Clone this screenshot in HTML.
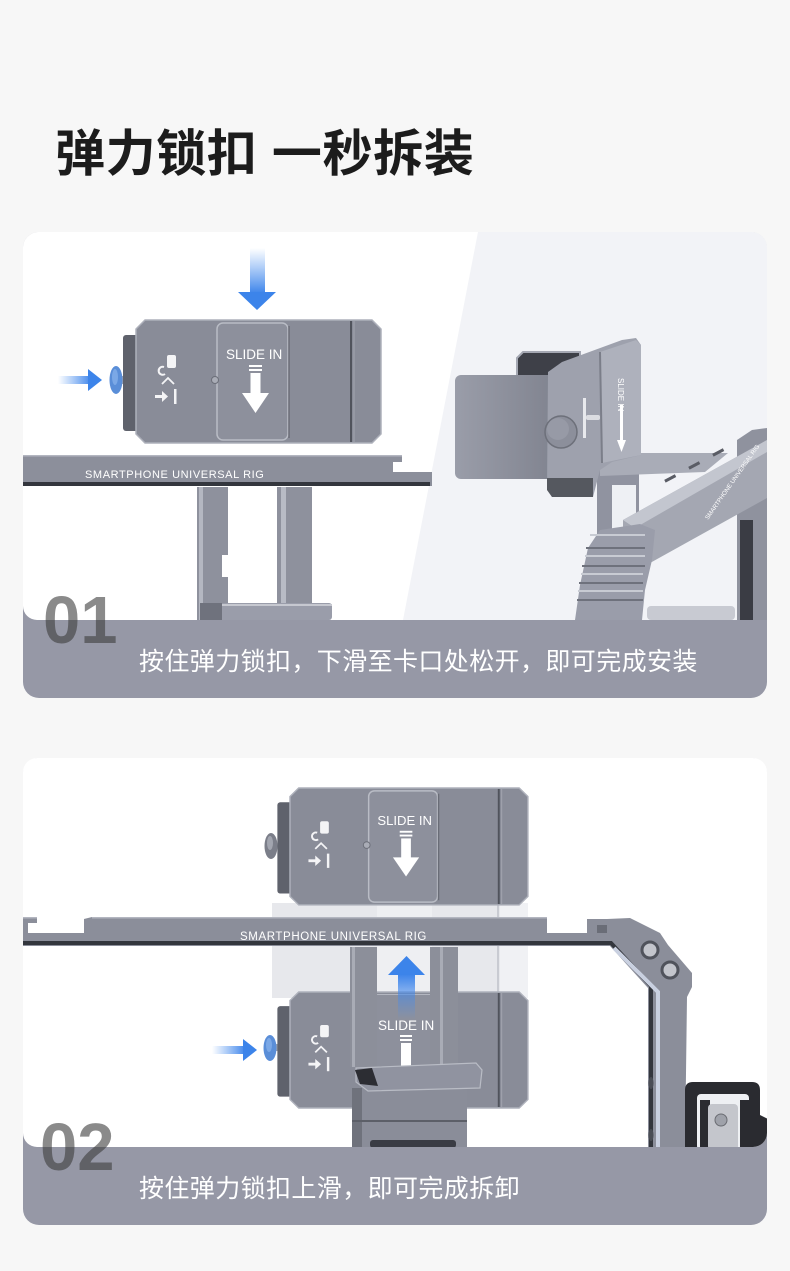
<!DOCTYPE html>
<html><head><meta charset="utf-8">
<style>
html,body{margin:0;padding:0;background:#f7f7f7;}
body{width:790px;height:1271px;overflow:hidden;position:relative;}
svg{position:absolute;left:0;top:0;}
</style></head>
<body>
<svg width="790" height="1271" viewBox="0 0 790 1271" xmlns="http://www.w3.org/2000/svg" font-family="'Liberation Sans','Noto Sans CJK SC',sans-serif">
<defs>
  <clipPath id="c1"><rect x="23" y="232" width="744" height="466" rx="16"/></clipPath>
  <clipPath id="c2"><rect x="23" y="758" width="744" height="467" rx="16"/></clipPath>
  <clipPath id="w2"><rect x="23" y="758" width="744" height="389" rx="14"/></clipPath>
  <linearGradient id="bdown" x1="0" y1="0" x2="0" y2="1">
    <stop offset="0" stop-color="#4a8ff0" stop-opacity="0"/>
    <stop offset="1" stop-color="#3b83ea"/>
  </linearGradient>
  <linearGradient id="bright" x1="0" y1="0" x2="1" y2="0">
    <stop offset="0" stop-color="#4a8ff0" stop-opacity="0"/>
    <stop offset="1" stop-color="#3b83ea"/>
  </linearGradient>
  <linearGradient id="bup" x1="0" y1="1" x2="0" y2="0">
    <stop offset="0" stop-color="#4a8ff0" stop-opacity="0"/>
    <stop offset="1" stop-color="#3b83ea"/>
  </linearGradient>
  <linearGradient id="jaw" x1="0" y1="0" x2="1" y2="0">
    <stop offset="0" stop-color="#9a9da9"/>
    <stop offset="1" stop-color="#7f828e"/>
  </linearGradient>
</defs>

<!-- Title -->
<text x="55" y="171" font-size="50" font-weight="bold" letter-spacing="0.6" fill="#1c1c1c">弹力锁扣 一秒拆装</text>

<!-- ================= CARD 1 ================= -->
<g clip-path="url(#c1)">
  <rect x="23" y="232" width="744" height="466" fill="#9698a6"/>
  <rect x="23" y="232" width="744" height="388" rx="14" fill="#ffffff"/>
  <rect x="23" y="232" width="744" height="370" fill="#ffffff"/>
  <polygon points="478,232 767,232 767,620 403,620" fill="#f2f3f7"/>

  <rect x="250" y="248" width="15" height="46" fill="url(#bdown)"/>
  <polygon points="238,292 276,292 257,310" fill="#3c84ea"/>
  <rect x="58" y="376" width="34" height="8" fill="url(#bright)"/>
  <polygon points="88,369 102,380 88,391" fill="#3c84ea"/>
  <rect x="120" y="376" width="17" height="8" fill="#9fa2ad"/>
  <ellipse cx="116" cy="380" rx="6.5" ry="14" fill="#5a8ed8"/>
  <ellipse cx="115" cy="377" rx="3" ry="8" fill="#7ba8e6"/>

  <g transform="translate(136,320)">
    <rect x="-13" y="15" width="16" height="96" rx="3" fill="#5f626c"/>
    <path d="M9,0 H236 L245,9 V114 L236,123 H9 L0,114 V9 Z" fill="#898c98" stroke="#aeb1bb" stroke-width="1.5"/>
    <rect x="81" y="3" width="71" height="117" rx="6" fill="#8d909c" stroke="#b9bcc5" stroke-width="1.5"/>
    <line x1="153" y1="6" x2="153" y2="118" stroke="#6a6d77" stroke-width="1.5"/>
    <line x1="215" y1="1" x2="215" y2="122" stroke="#50535c" stroke-width="2"/>
    <line x1="218" y1="1" x2="218" y2="122" stroke="#a3a6b0" stroke-width="1"/>
    <rect x="31" y="35" width="9" height="13" rx="2" fill="#f4f4f6"/>
    <path d="M28,47 a4,4 0 1 0 1,7" stroke="#f4f4f6" stroke-width="2" fill="none"/>
    <path d="M26,64 l6,-6 l6,6" stroke="#f4f4f6" stroke-width="1.8" fill="none"/>
    <rect x="19" y="75" width="8" height="3" fill="#f4f4f6"/>
    <polygon points="26,71 32,76.5 26,82" fill="#f4f4f6"/>
    <rect x="38" y="69" width="2.5" height="15" fill="#f4f4f6"/>
    <circle cx="79" cy="60" r="3.5" fill="#a9acb6" stroke="#6c6f79"/>
    <text x="90" y="39" font-size="13.5" fill="#ffffff">SLIDE IN</text>
    <rect x="113" y="45" width="13" height="2" fill="#fff"/>
    <rect x="113" y="49" width="13" height="2" fill="#fff"/>
    <rect x="114.5" y="53" width="10" height="21" fill="#fff"/>
    <polygon points="106,73 133,73 119.5,93" fill="#fff"/>
  </g>

  <path d="M23,455 H402 V462 H393 V472 H432 V486 H23 Z" fill="#8c8f9b"/>
  <rect x="23" y="455" width="379" height="1.5" fill="#b3b6c0"/>
  <rect x="23" y="482" width="407" height="4" fill="#33363d"/>
  <text x="85" y="478" font-size="11" letter-spacing="0.6" fill="#ffffff">SMARTPHONE UNIVERSAL RIG</text>

  <rect x="197" y="487" width="31" height="133" fill="#8e919d"/>
  <rect x="199" y="487" width="4" height="133" fill="#b4b7c1"/>
  <rect x="222" y="555" width="7" height="22" fill="#ffffff"/>
  <rect x="277" y="487" width="35" height="133" fill="#8e919d"/>
  <rect x="281" y="487" width="5" height="120" fill="#b8bbc5"/>
  <rect x="200" y="603" width="132" height="17" rx="3" fill="#9a9daa"/>
  <rect x="200" y="603" width="22" height="17" fill="#6f727d"/>
  <rect x="222" y="604" width="110" height="2" fill="#c6c8d0"/>

  <polygon points="737,440 752,430 767,428 767,620 737,620" fill="#8f929e"/>
  <rect x="740" y="520" width="13" height="100" fill="#3a3c44"/>
  <rect x="597" y="470" width="42" height="120" fill="#9093a0"/>
  <rect x="612" y="485" width="24" height="45" fill="#eef0f4"/>
  <polygon points="600,465 616,453 728,453 705,472 600,476" fill="#a9acb7"/>
  <polygon points="623,520 767,440 767,498 650,563 623,560" fill="#a4a7b2"/>
  <polygon points="623,520 767,440 767,452 635,528" fill="#c3c6cf"/>
  <rect x="664" y="477" width="12" height="3" fill="#5a5c65" transform="rotate(-28 670 478)"/>
  <rect x="688" y="464" width="12" height="3" fill="#5a5c65" transform="rotate(-28 694 465)"/>
  <rect x="712" y="451" width="12" height="3" fill="#5a5c65" transform="rotate(-28 718 452)"/>
  <text x="708" y="520" font-size="6" fill="#ffffff" transform="rotate(-55 708 520)">SMARTPHONE UNIVERSAL RIG</text>
  <polygon points="575,620 580,585 588,548 600,530 640,524 655,530 652,560 645,590 642,620" fill="#9a9daa"/>
  <g stroke="#6e717c" stroke-width="2">
    <line x1="586" y1="548" x2="645" y2="548"/>
    <line x1="582" y1="566" x2="645" y2="566"/>
    <line x1="579" y1="583" x2="643" y2="583"/>
    <line x1="577" y1="600" x2="643" y2="600"/>
  </g>
  <g stroke="#c8cbd3" stroke-width="2">
    <line x1="590" y1="535" x2="645" y2="535"/>
    <line x1="585" y1="556" x2="645" y2="556"/>
    <line x1="581" y1="574" x2="643" y2="574"/>
    <line x1="578" y1="591" x2="643" y2="591"/>
  </g>
  <rect x="647" y="606" width="88" height="14" rx="4" fill="#c8cad2"/>
  <polygon points="517,358 523,352 580,352 580,380 517,380" fill="#3e4048" stroke="#a5a8b3" stroke-width="2"/>
  <rect x="455" y="375" width="105" height="104" rx="6" fill="url(#jaw)"/>
  <polygon points="548,372 562,362 622,340 636,338 641,345 641,455 612,462 600,470 593,497 552,497 547,488" fill="#9ea1ad"/>
  <polygon points="547,478 593,478 593,497 552,497 547,490" fill="#55585f"/>
  <polygon points="600,352 636,340 641,345 641,455 602,463" fill="#aeb1bc"/>
  <line x1="600" y1="352" x2="602" y2="463" stroke="#7b7e89" stroke-width="2"/>
  <text x="618" y="378" font-size="8" fill="#ffffff" transform="rotate(90 618 378)">SLIDE IN</text>
  <rect x="620" y="405" width="3" height="40" fill="#fff"/>
  <polygon points="617,440 626,440 621.5,452" fill="#fff"/>
  <rect x="583" y="398" width="3" height="40" fill="#e8e9ed"/>
  <rect x="586" y="415" width="14" height="5" rx="2" fill="#dcdde2"/>
  <circle cx="561" cy="432" r="16" fill="#8c8f9b" stroke="#6d707a" stroke-width="1.5"/>
  <circle cx="558" cy="429" r="11" fill="#979aa6"/>
</g>

<text x="43" y="643" font-size="67" font-weight="bold" fill="#3c3c3c" fill-opacity="0.6">01</text>
<text x="139" y="670" font-size="25" letter-spacing="0.4" fill="#ffffff">按住弹力锁扣，下滑至卡口处松开，即可完成安装</text>

<!-- ================= CARD 2 ================= -->
<g clip-path="url(#c2)">
  <rect x="23" y="758" width="744" height="467" fill="#9698a6"/>
</g>
<g clip-path="url(#w2)">
  <rect x="23" y="758" width="744" height="389" fill="#ffffff"/>

  <rect x="272" y="903" width="256" height="95" fill="#e7e8ec"/>
  <rect x="377" y="903" width="55" height="95" fill="#eeeff2"/>
  <rect x="497" y="903" width="2" height="95" fill="#c9cbd2"/>
  <rect x="500" y="903" width="28" height="95" fill="#f0f1f4"/>

  <rect x="278" y="843" width="14" height="7" fill="#9fa2ad"/>
  <ellipse cx="271" cy="846" rx="6.5" ry="13" fill="#7b7e89"/>
  <ellipse cx="270" cy="843" rx="3" ry="7" fill="#a2a5af"/>
  <g transform="translate(290,788) scale(0.971,0.951)">
    <rect x="-13" y="15" width="16" height="96" rx="3" fill="#5f626c"/>
    <path d="M9,0 H236 L245,9 V114 L236,123 H9 L0,114 V9 Z" fill="#898c98" stroke="#aeb1bb" stroke-width="1.5"/>
    <rect x="81" y="3" width="71" height="117" rx="6" fill="#8d909c" stroke="#b9bcc5" stroke-width="1.5"/>
    <line x1="153" y1="6" x2="153" y2="118" stroke="#6a6d77" stroke-width="1.5"/>
    <line x1="215" y1="1" x2="215" y2="122" stroke="#50535c" stroke-width="2"/>
    <line x1="218" y1="1" x2="218" y2="122" stroke="#a3a6b0" stroke-width="1"/>
    <rect x="31" y="35" width="9" height="13" rx="2" fill="#f4f4f6"/>
    <path d="M28,47 a4,4 0 1 0 1,7" stroke="#f4f4f6" stroke-width="2" fill="none"/>
    <path d="M26,64 l6,-6 l6,6" stroke="#f4f4f6" stroke-width="1.8" fill="none"/>
    <rect x="19" y="75" width="8" height="3" fill="#f4f4f6"/>
    <polygon points="26,71 32,76.5 26,82" fill="#f4f4f6"/>
    <rect x="38" y="69" width="2.5" height="15" fill="#f4f4f6"/>
    <circle cx="79" cy="60" r="3.5" fill="#a9acb6" stroke="#6c6f79"/>
    <text x="90" y="39" font-size="13.5" fill="#ffffff">SLIDE IN</text>
    <rect x="113" y="45" width="13" height="2" fill="#fff"/>
    <rect x="113" y="49" width="13" height="2" fill="#fff"/>
    <rect x="114.5" y="53" width="10" height="21" fill="#fff"/>
    <polygon points="106,73 133,73 119.5,93" fill="#fff"/>
  </g>

  <rect x="212" y="1046" width="34" height="8" fill="url(#bright)"/>
  <polygon points="243,1039 257,1050 243,1061" fill="#3c84ea"/>
  <rect x="276" y="1044" width="16" height="7" fill="#9fa2ad"/>
  <ellipse cx="270" cy="1048" rx="6.5" ry="13" fill="#5a8ed8"/>
  <ellipse cx="269" cy="1045" rx="3" ry="7" fill="#7ba8e6"/>
  <g transform="translate(290,992) scale(0.971,0.943)">
    <rect x="-13" y="15" width="16" height="96" rx="3" fill="#5f626c"/>
    <path d="M9,0 H236 L245,9 V114 L236,123 H9 L0,114 V9 Z" fill="#898c98" stroke="#aeb1bb" stroke-width="1.5"/>
    <rect x="85" y="3" width="67" height="117" rx="6" fill="#8d909c" stroke="#b9bcc5" stroke-width="1.5"/>
    <line x1="215" y1="1" x2="215" y2="122" stroke="#50535c" stroke-width="2"/>
    <line x1="218" y1="1" x2="218" y2="122" stroke="#a3a6b0" stroke-width="1"/>
    <rect x="31" y="35" width="9" height="13" rx="2" fill="#f4f4f6"/>
    <path d="M28,47 a4,4 0 1 0 1,7" stroke="#f4f4f6" stroke-width="2" fill="none"/>
    <path d="M26,64 l6,-6 l6,6" stroke="#f4f4f6" stroke-width="1.8" fill="none"/>
    <rect x="19" y="75" width="8" height="3" fill="#f4f4f6"/>
    <polygon points="26,71 32,76.5 26,82" fill="#f4f4f6"/>
    <rect x="38" y="69" width="2.5" height="15" fill="#f4f4f6"/>
  </g>
  <rect x="350" y="947" width="27" height="120" fill="#8c8f9a"/>
  <rect x="352" y="947" width="3" height="120" fill="#a9acb6"/>
  <rect x="430" y="947" width="28" height="120" fill="#8c8f9a"/>
  <rect x="440" y="947" width="3" height="120" fill="#a9acb6"/>
  <rect x="377" y="995" width="53" height="72" fill="#8d909c"/>
  <text x="378" y="1030" font-size="13.5" fill="#ffffff">SLIDE IN</text>
  <rect x="400" y="1035" width="12" height="2" fill="#fff"/>
  <rect x="400" y="1039" width="12" height="2" fill="#fff"/>
  <rect x="401" y="1043" width="10" height="25" fill="#fff"/>
  <rect x="398" y="974" width="17" height="46" fill="url(#bup)"/>
  <polygon points="388,975 425,975 406.5,956" fill="#3c84ea"/>
  <rect x="352" y="1088" width="115" height="60" fill="#8a8d99"/>
  <rect x="352" y="1088" width="10" height="60" fill="#6f727c"/>
  <rect x="352" y="1120" width="115" height="2" fill="#5c5f68"/>
  <rect x="370" y="1140" width="86" height="8" rx="3" fill="#3a3c44"/>
  <path d="M356,1068 L476,1063 L482,1070 L480,1088 L368,1091 L356,1082 Z" fill="#9093a0" stroke="#b9bcc5" stroke-width="1.2"/>
  <polygon points="355,1070 372,1068 378,1086 360,1084" fill="#2c2d33"/>

  <path d="M23,917 H37 V923 H28 V933 H84 V919 L92,917 H547 V933 H587 V919 H607 L630,918 L660,933 L668,945 L692,973 L692,987 L687,997 L685,1150 L648,1150 L648,988 L610,946 L23,946 Z" fill="#8b8e9a"/>
  <rect x="23" y="917" width="14" height="1.5" fill="#b3b6c0"/>
  <rect x="92" y="917" width="455" height="1.5" fill="#b3b6c0"/>
  <rect x="597" y="925" width="10" height="8" fill="#6a6d77"/>
  <path d="M23,943 H611 L651,986 V1150" fill="none" stroke="#33363d" stroke-width="4"/>
  <path d="M614,948 L658,992 V1150" fill="none" stroke="#c9d0e0" stroke-width="4"/>
  <circle cx="650" cy="950" r="8" fill="#c3c5cc" stroke="#50535c" stroke-width="3"/>
  <circle cx="670" cy="970" r="8" fill="#c3c5cc" stroke="#50535c" stroke-width="3"/>
  <ellipse cx="651" cy="1083" rx="2.5" ry="6" fill="#4a4d55"/>
  <ellipse cx="651" cy="1135" rx="2.5" ry="6" fill="#4a4d55"/>
  <text x="240" y="940" font-size="11.5" letter-spacing="0.6" fill="#ffffff">SMARTPHONE UNIVERSAL RIG</text>

  <path d="M685,1090 Q685,1082 693,1082 H752 Q760,1082 760,1090 V1115 L770,1120 V1150 H685 Z" fill="#2a2b30"/>
  <rect x="697" y="1094" width="52" height="56" rx="4" fill="#eef0f3"/>
  <rect x="700" y="1100" width="10" height="50" fill="#2a2b30"/>
  <rect x="740" y="1100" width="10" height="50" fill="#2a2b30"/>
  <rect x="708" y="1104" width="30" height="46" rx="4" fill="#c4c6cc"/>
  <circle cx="721" cy="1120" r="6" fill="#9fa2aa" stroke="#6a6c72"/>
</g>

<text x="40" y="1170" font-size="67" font-weight="bold" fill="#3c3c3c" fill-opacity="0.6">02</text>
<text x="139" y="1197" font-size="25" letter-spacing="0.4" fill="#ffffff">按住弹力锁扣上滑，即可完成拆卸</text>
</svg>
</body></html>
